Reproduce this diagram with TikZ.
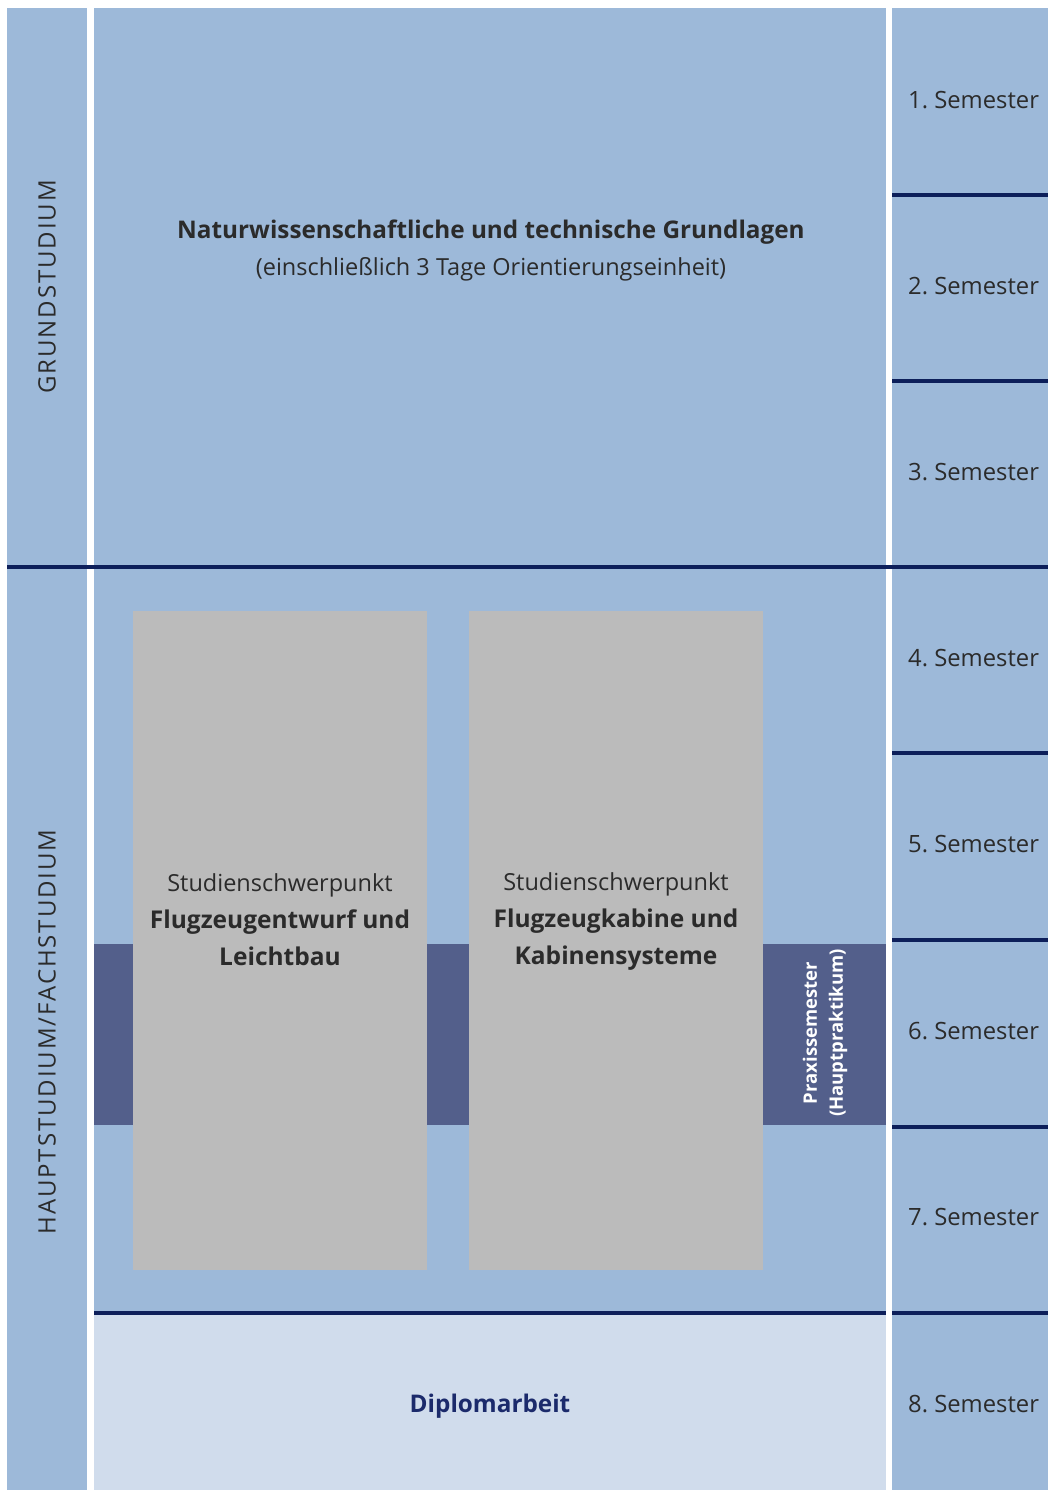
\documentclass[tikz,border=0pt]{standalone}
\usepackage{fontspec}
\setmainfont{Open Sans}
\newfontfamily\spacedfont[LetterSpace=8]{Open Sans}
\definecolor{mainblue}{HTML}{9DB9D9}
\definecolor{lightblue}{HTML}{D0DCEC}
\definecolor{navy}{HTML}{0D1F5A}
\definecolor{band}{HTML}{535F8B}
\definecolor{boxgray}{HTML}{BBBBBB}
\definecolor{txt}{HTML}{2B2B2B}
\definecolor{dipl}{HTML}{1B2A6B}
\tikzset{
  sepline/.style={navy, line width=4.5pt},
  sem/.style={anchor=west, font=\fontsize{23.8}{28}\selectfont, text=txt, inner sep=0pt},
  phase/.style={rotate=90, font=\spacedfont\fontsize{24}{28}\selectfont, text=txt, inner sep=0pt},
  boxtext/.style={align=center, text=txt, font=\fontsize{23.5}{37}\selectfont, inner sep=0pt},
}
\begin{document}
\begin{tikzpicture}[x=1pt,y=-1pt]
\useasboundingbox (0,0) rectangle (1048,1490);
\fill[white] (0,0) rectangle (1048,1490);
% columns
\fill[mainblue] (7,8) rectangle (87,1490);
\fill[mainblue] (94,8) rectangle (886,1490);
\fill[mainblue] (892,8) rectangle (1048,1490);
\fill[lightblue] (94,1313) rectangle (886,1490);
% Praxis bands
\fill[band] (94,944) rectangle (886,1125);
% grey boxes
\fill[boxgray] (133,611) rectangle (427,1270);
\fill[boxgray] (469,611) rectangle (763,1270);
% lines
\draw[sepline] (7,567) -- (1048,567);
\draw[sepline] (94,1313) -- (886,1313);
\foreach \y in {195,381,753,940,1127,1313}
  \draw[sepline] (892,\y) -- (1048,\y);
% semester labels
\foreach \i/\y in {1/100,2/286,3/472,4/658,5/844,6/1031,7/1217,8/1404}
  \node[sem] (sem\i) at (908,\y) {\i.\ Semester};
% phase labels
\node[phase] (grund) at (47,287) {GRUNDSTUDIUM};
\node[phase] (haupt) at (47,1032) {HAUPTSTUDIUM/FACHSTUDIUM};
% title
\node[text=txt, font=\bfseries\fontsize{24.3}{28}\selectfont, inner sep=0pt] (title) at (491,232) {Naturwissenschaftliche und technische Grundlagen};
\node[text=txt, font=\fontsize{23.5}{28}\selectfont, inner sep=0pt] (subtitle) at (491,269) {(einschließlich 3 Tage Orientierungseinheit)};
% box texts
\node[boxtext] (box1) at (280,920) {Studienschwerpunkt\\\textbf{\fontsize{24.5}{37}\selectfont Flugzeugentwurf und}\\\textbf{\fontsize{24.5}{37}\selectfont Leichtbau}};
\node[boxtext] (box2) at (616,922) {Studienschwerpunkt\\\textbf{\fontsize{24.5}{37}\selectfont Flugzeugkabine und}\\\textbf{\fontsize{24.5}{37}\selectfont Kabinensysteme}};
% praxis
\node[rotate=90, align=center, text=white, font=\bfseries\fontsize{18.5}{26}\selectfont, inner sep=0pt] (praxis) at (825,1033) {Praxissemester\\(Hauptpraktikum)};
% diplom
\node[text=dipl, font=\bfseries\fontsize{24.3}{28}\selectfont, inner sep=0pt] (diplom) at (490,1406) {Diplomarbeit};
\end{tikzpicture}
\end{document}
